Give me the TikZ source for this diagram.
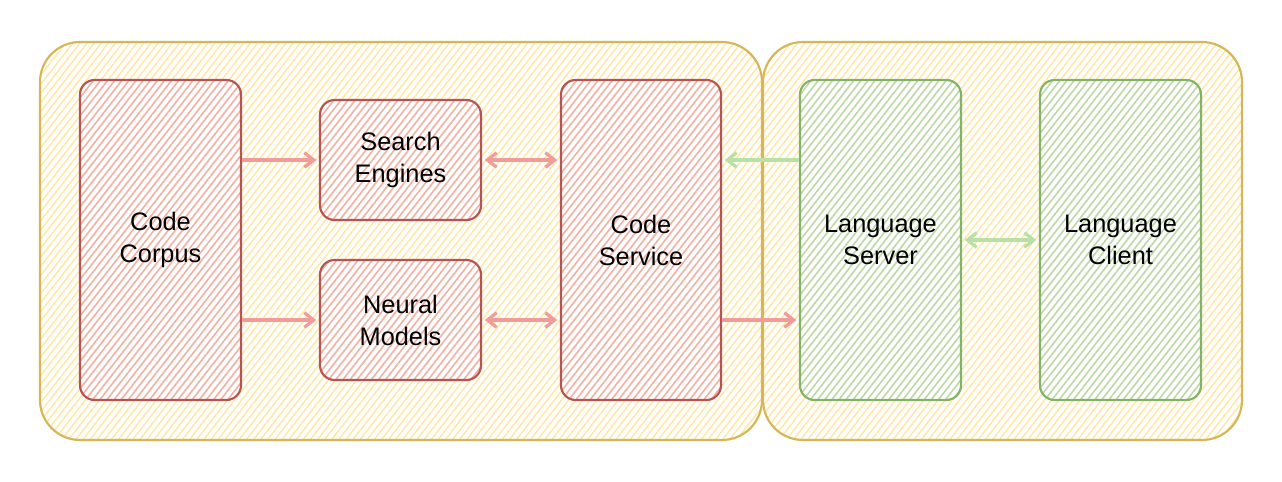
\documentclass[tikz,border=0pt]{standalone}
\usepackage{fontspec}
\setmainfont{Liberation Sans}
\usetikzlibrary{arrows.meta,patterns.meta}
\definecolor{redS}{HTML}{B85450}
\definecolor{redF}{HTML}{F2AFAD}
\definecolor{greenS}{HTML}{82B366}
\definecolor{greenF}{HTML}{B9D9B0}
\definecolor{yelS}{HTML}{D6B656}
\definecolor{yelF}{HTML}{FFE8A3}
\definecolor{redA}{HTML}{F19C99}
\definecolor{greenA}{HTML}{B9E0A5}
\tikzset{
  hatch/.style={pattern={Lines[angle=52,distance=4.2pt,line width=1.1pt]}},
  txt/.style={font=\fontsize{19}{24}\selectfont},
  container/.style={draw=yelS, line width=1.6pt, rounded corners=30pt, hatch, pattern color=yelF,
     minimum height=298.5pt, inner sep=0pt},
  redbox/.style={draw=redS, line width=1.6pt, rounded corners=11pt, hatch, pattern color=redF,
     minimum width=120.75pt, align=center, txt, inner sep=0pt},
  greenbox/.style={draw=greenS, line width=1.6pt, rounded corners=11pt, hatch, pattern color=greenF,
     minimum width=120.75pt, minimum height=240pt, align=center, txt, inner sep=0pt},
  tip/.style={Straight Barb[length=7pt,width=11pt,line width=2.4pt]},
  redarrow/.style={draw=redA, line width=2.8pt, -{Straight Barb[length=7pt,width=11pt,line width=2.4pt]}, shorten >=2pt},
  redboth/.style={draw=redA, line width=2.8pt, {Straight Barb[length=7pt,width=11pt,line width=2.4pt]}-{Straight Barb[length=7pt,width=11pt,line width=2.4pt]}, shorten >=2pt, shorten <=2pt},
  greenarrow/.style={draw=greenA, line width=2.8pt, -{Straight Barb[length=7pt,width=11pt,line width=2.4pt]}, shorten >=2pt},
  greenboth/.style={draw=greenA, line width=2.8pt, {Straight Barb[length=7pt,width=11pt,line width=2.4pt]}-{Straight Barb[length=7pt,width=11pt,line width=2.4pt]}, shorten >=2pt, shorten <=2pt},
}
\begin{document}
\begin{tikzpicture}[x=0.75pt,y=-0.75pt]
\useasboundingbox (0,0) rectangle (1282,482);
\fill[white] (0,0) rectangle (1282,482);
\node[container, minimum width=541.5pt] (left) at (401,241) {};
\node[container, minimum width=359.25pt] (right) at (1002.5,241) {};
\node[redbox, minimum height=240pt] (cc) at (160.5,240) {Code\\Corpus};
\node[redbox, minimum height=90pt] (se) at (400.5,160) {Search\\Engines};
\node[redbox, minimum height=90pt] (nm) at (400.5,320) {Neural\\Models};
\node[redbox, minimum height=240pt, minimum width=120pt] (cs) at (641,240) {Code\\Service};
\node[greenbox] (ls) at (880.5,240) {Language\\Server};
\node[greenbox] (lc) at (1120.5,240) {Language\\Client};
\draw[redarrow] (cc.east |- se.west) -- (se.west);
\draw[redarrow] (cc.east |- nm.west) -- (nm.west);
\draw[redboth] (se.east) -- (cs.west |- se.east);
\draw[redboth] (nm.east) -- (cs.west |- nm.east);
\draw[greenarrow] (ls.west |- se.east) -- (cs.east |- se.east);
\draw[redarrow] (cs.east |- nm.east) -- (ls.west |- nm.east);
\draw[greenboth] (ls.east) -- (lc.west);
\end{tikzpicture}
\end{document}
